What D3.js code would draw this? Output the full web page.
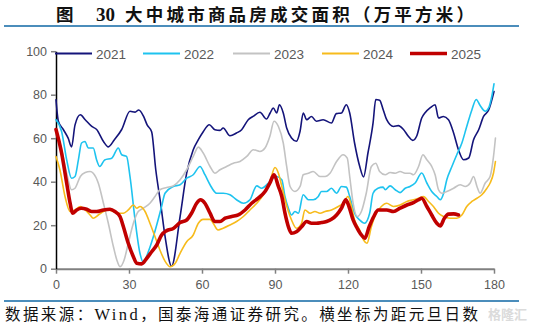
<!DOCTYPE html>
<html><head><meta charset="utf-8">
<script src="https://cdn.jsdelivr.net/npm/d3@7"></script>
<style>body{margin:0;background:#fff}svg{display:block}</style>
</head><body><svg id="c" width="535" height="333"></svg>
<script>
const years = ["2021","2022","2023","2024","2025"];
const colors = ["#14147a","#1ec3ef","#c3c3c3","#f7bb1c","#c00000"];
const xTicks = [0,30,60,90,120,150,180];
const yTicks = [0,20,40,60,80,100];

const s2021 = [[0,77.7],[1,67.7],[3,64],[5,60],[6.4,56],[7.8,66],[10,70.8],[12,68.5],[14.7,65.4],[16.7,64],[19.5,58.5],[21.5,56],[24,59.3],[27,64],[30.4,72.4],[32.5,72],[34,73],[36,70],[37.5,66],[39.3,63],[41,45.5],[43,30],[44.8,15],[47.5,1.2],[51,24],[53.7,43.9],[56.4,54.7],[58.5,59.3],[60.5,63],[63,66.2],[65.3,63.9],[67.4,63.6],[68.7,64.7],[71.5,61.1],[74.2,62.4],[76.3,63.9],[79,68.5],[81,70],[83.8,71.9],[86.5,68.8],[88,71.6],[89.3,73.9],[90.7,71.6],[91.8,75.4],[93.4,71.6],[94.8,64.7],[96.8,60.1],[98.8,58.6],[100.3,63.2],[101.6,71.6],[103,68.5],[105,70],[107,67.8],[109.8,68.5],[113.2,67],[115.2,71.3],[117.3,71.6],[119.3,75.4],[120.7,71.6],[122.7,57.8],[124.8,47.1],[126.4,42.2],[128.2,53.2],[130.3,67],[131.4,77.8],[133,77.5],[134.5,73],[135.9,68.5],[138.7,65.4],[140.7,65.8],[142.8,64],[144.8,60.9],[146.6,59],[148.2,60.9],[150.3,69.3],[151.6,71.6],[153.7,73.9],[155.8,75.4],[157.2,69.3],[159.2,70],[161.3,68.5],[163.4,62.4],[165.4,54.7],[167.5,50.1],[169.6,50.9],[171.6,59.3],[173.7,63.9],[175.7,70],[177.8,73],[180,81.5]];

const s2022 = [[0,68.5],[2.3,63.1],[4.4,50],[6.4,41.6],[7.8,42.4],[9.2,50],[10.5,57.8],[11.9,58.5],[13.3,55.5],[15.3,55.5],[16.7,50],[18,47],[20,50],[22.9,50.8],[25.6,55.5],[27,52.4],[29,51.6],[30.4,42.4],[32.5,22.4],[34.5,7.1],[35.9,3],[38,8],[40,14.7],[43.4,28.6],[44.8,34.7],[48.2,37.8],[51,38.6],[53.7,41.6],[56.4,43.2],[59.2,47],[61.2,43.2],[63.3,38.6],[66,34.7],[68.7,34.7],[71.5,34],[74.2,31.7],[77,30.1],[79.7,31.7],[82.5,38.1],[84.5,37],[87.3,39.4],[88.5,41],[90.7,42.4],[92.8,40.9],[94.1,33.2],[95.5,27.8],[96.8,24.7],[98.2,26.3],[99.6,25.5],[101.6,34],[103.7,31.7],[105.7,31.7],[107.8,33.2],[109.1,35.5],[111.2,35.5],[113.2,37],[115.3,34.7],[117.3,37.8],[119.3,37.5],[120.7,33.2],[122.7,25.5],[124.8,22.4],[126.8,20.9],[128.9,25.5],[130.3,34.7],[132.3,37],[134.4,37.5],[135.3,36.3],[137.3,38.1],[139.4,36.3],[141.4,35],[143.5,37],[145.5,37.8],[147.6,39.4],[150.3,44],[152.4,39.4],[154.4,35.5],[156.5,33.2],[157.9,31.7],[159.3,34.7],[160.6,40.9],[162.7,47],[164.7,52.4],[166.8,57.8],[168.8,65.4],[170.9,73],[172.7,77.8],[174.3,75],[176.4,72.4],[177.8,73.9],[179.1,79.3],[180,85]];

const s2023 = [[0,64],[2.3,54.7],[4.4,43.9],[6.4,36.3],[7.8,37],[10,42.4],[12,44.2],[14,44.7],[15.3,43.9],[17.4,39.3],[19.5,30.1],[21.5,20.9],[23.6,10.1],[25,4],[26.3,0.9],[28,4],[29.7,11.7],[31.8,20.9],[33.8,26.3],[35.9,27.8],[38.6,30.1],[40.7,33.2],[42.7,36.3],[45.5,37.3],[48.2,38.1],[51,40.9],[53.7,45.5],[56.4,51.6],[58.5,55.9],[60.5,53.2],[63.3,47],[65.3,43.9],[67.4,45.5],[70.1,47],[72.9,48.5],[75.6,49.3],[78.4,51.6],[81.1,54.7],[83.8,53.9],[85.9,55.5],[87.9,60.9],[89.6,67.8],[91.4,65.4],[93.4,57.8],[94.8,47],[96.2,37.8],[98.2,35.5],[100.3,37.8],[101.6,43.2],[103.7,43.9],[105.7,44.7],[108.5,42.4],[110.6,42.4],[112.6,43.9],[115.3,49.3],[118,52.4],[119.7,50.8],[120.7,42.4],[122.1,30.1],[123.8,24],[125.5,26.3],[127.5,34.7],[129.6,47],[131.4,48.5],[133,44.7],[135.3,43.2],[137.3,44.2],[139.4,43.9],[141.4,44.7],[143.5,43.9],[145.5,43.9],[146.9,43.2],[149,47],[150.8,52.4],[152.4,50.1],[154.4,47],[155.8,43.2],[157.2,36.3],[158.6,34.7],[160.6,35.5],[163.4,37],[166.1,38.6],[168.2,37.8],[170.2,39.4],[171.6,42.4],[173,37.8],[174.3,34.7],[176.4,39.4],[178.4,42.4],[179.8,51.6],[180.6,60.1]];

const s2024 = [[0,51.6],[1.6,45.5],[3.7,33.2],[5.8,26.3],[7.8,27],[10,28.6],[12,27],[14,24.7],[15.3,23.2],[17.4,24.7],[19.5,26.3],[21.5,27],[23.6,26.3],[25.6,25.5],[27.7,25.5],[29.7,27],[31.8,29.3],[33.2,27.8],[34.5,28.6],[36.6,26.3],[38.6,20.9],[40.7,14.7],[42.7,8.6],[44.8,3.5],[46.9,0.9],[49,2.5],[51,7.1],[53.7,12.4],[56.4,15.5],[58.5,20.9],[60.5,22.7],[63.3,22.7],[64.6,20.9],[66.6,17.8],[68.7,18.6],[71.5,20.1],[74.2,21.7],[77,24],[79.7,27],[82.5,30.1],[85.2,34],[87.9,40.1],[90,46.5],[91.4,43.9],[92.8,37.8],[94.1,31.7],[95.5,26.3],[96.8,22.4],[98.8,18.6],[100.9,20.9],[102.3,27],[104.4,25.5],[106.4,26.3],[108.5,25.5],[110.6,26.3],[113.2,27],[116,28.6],[118,30.1],[120,33.2],[121.4,28.6],[122.7,22.4],[124.8,17.8],[126.4,13.2],[127.8,11.7],[129.6,19.3],[131.6,25.5],[133.7,28.6],[135.9,30.1],[138.7,28.6],[141.4,29.3],[144.2,30.9],[146.9,31.7],[149,32.4],[151,33.2],[153.1,30.9],[155.1,28.6],[157.2,25.5],[159.3,24],[161.9,23.2],[164.7,23.2],[166.8,24.7],[168.8,28.6],[170.9,30.9],[173,32.4],[175,34],[177.1,37],[178.4,39.4],[179.8,44],[180.6,49.3]];

const s2025 = [[0,64],[2.3,53.2],[4.4,39.3],[5.8,30.1],[6.8,25.5],[8.5,27],[10.5,27.8],[12.6,27.3],[14.7,26.3],[16.7,26.3],[19.5,27],[22.2,27.3],[24.2,26.3],[26.3,24],[27.7,19.3],[29.7,11.7],[31.8,5.5],[33.2,2.5],[35.2,2.2],[37.3,4.8],[39.3,7.8],[41.4,10.9],[43.4,15.5],[45.5,17.5],[48.2,18.5],[51,21.2],[53.7,22.4],[55.7,25.5],[57.8,30.1],[59.4,31.7],[61.2,30.1],[63.3,25.5],[65.3,21.7],[67.4,21.7],[69.5,23.2],[72.2,24],[74.9,24.7],[77.7,27],[80.4,30.1],[83.1,32.4],[85.9,35.5],[87.9,39.4],[89.6,43.2],[91.4,37.8],[92.8,33.2],[94.1,25.5],[95.5,19.3],[96.8,16.3],[98.8,17],[100.9,19.3],[103,21.7],[105,20.9],[107,20.9],[109.1,21.2],[111.2,21.7],[113.2,22.7],[115.3,24.7],[117.3,27.8],[119.1,31.7],[120.4,28.6],[122.1,22.4],[123.8,18.6],[125.5,15.5],[126.9,14],[128.7,19.3],[130.6,24],[132.4,27],[135.9,27],[138.7,26.3],[141.4,27.8],[144.2,29.3],[146.9,30.4],[149,31.7],[150.3,32.4],[152.4,28.6],[154.4,24.7],[156.5,20.9],[157.9,19.7],[159.6,23.2],[161.3,25.1],[163.4,25.2],[165.4,24.7]];

const series = [s2021, s2022, s2023, s2024, s2025];

const svg = d3.select("#c");
const x = d3.scaleLinear().domain([0,180]).range([56,494]);
const y = d3.scaleLinear().domain([0,100]).range([268.7,51.2]);

const cjk = "'Noto Sans CJK SC', sans-serif";
const serif = "'Liberation Serif', 'Times New Roman', serif";

// title
svg.append("text").attr("x",56).attr("y",20.5)
  .attr("font-family",cjk).attr("font-weight","bold").attr("font-size",17.5).attr("fill","#111")
  .text("图");
svg.append("text").attr("x",96).attr("y",20.5)
  .attr("font-family",serif).attr("font-weight","bold").attr("font-size",19).attr("fill","#111")
  .text("30");
svg.append("text").attr("x",125).attr("y",20.5)
  .attr("font-family",cjk).attr("font-weight","bold").attr("font-size",17.5).attr("fill","#111")
  .attr("textLength",349).attr("lengthAdjust","spacing")
  .text("大中城市商品房成交面积（万平方米）");
svg.append("line").attr("x1",4).attr("x2",519).attr("y1",26).attr("y2",26)
  .attr("stroke","#4b8dbb").attr("stroke-width",2);
svg.append("line").attr("x1",4).attr("x2",519).attr("y1",301).attr("y2",301)
  .attr("stroke","#4b8dbb").attr("stroke-width",2);

// footer
const foot = svg.append("text").attr("x",5).attr("y",319.5)
  .attr("font-family",cjk).attr("font-size",15.5).attr("fill","#111")
  .attr("textLength",473).attr("lengthAdjust","spacing");
foot.append("tspan").text("数据来源：");
foot.append("tspan").attr("font-family",serif).attr("font-size",16.5).text("Wind");
foot.append("tspan").text("，国泰海通证券研究。横坐标为距元旦日数");
svg.append("text").attr("x",488).attr("y",319)
  .attr("font-family",cjk).attr("font-weight","bold").attr("font-size",13).attr("fill","#d5d5d5")
  .attr("opacity",0.85)
  .text("格隆汇");

// axes
const gx = svg.append("g").attr("transform","translate(0,268.7)")
  .call(d3.axisBottom(x).tickValues(xTicks).tickSize(5).tickSizeOuter(0).tickPadding(6));
gx.select(".domain").attr("stroke","#808080").attr("stroke-width",2);
gx.selectAll(".tick line").attr("stroke","#808080").attr("stroke-width",1.5);
gx.selectAll("text").attr("font-family","'Liberation Sans', Arial, sans-serif").attr("font-size",12.5).attr("fill","#595959");

const gy = svg.append("g").attr("transform","translate(56,0)")
  .call(d3.axisLeft(y).tickValues(yTicks).tickSize(5).tickSizeOuter(0).tickPadding(4));
gy.select(".domain").attr("stroke","#000").attr("stroke-width",1.5);
gy.selectAll(".tick line").attr("stroke","#808080").attr("stroke-width",1.5);
gy.selectAll("text").attr("font-family","'Liberation Sans', Arial, sans-serif").attr("font-size",12.5).attr("fill","#595959");

// lines
const line = d3.line().x(d=>x(d[0])).y(d=>y(d[1])).curve(d3.curveMonotoneX);
series.forEach((s,i)=>{
  svg.append("path").datum(s).attr("d",line).attr("fill","none")
    .attr("stroke",colors[i]).attr("stroke-width", i===4?3.6:1.6)
    .attr("stroke-linejoin","round").attr("stroke-linecap","round");
});

// legend
const legX = [55,143,233,322,410];
years.forEach((yr,i)=>{
  const g = svg.append("g");
  g.append("line").attr("x1",legX[i]).attr("x2",legX[i]+37).attr("y1",53.5).attr("y2",53.5)
    .attr("stroke",colors[i]).attr("stroke-width", i===4?3.6:1.8);
  g.append("text").attr("x",legX[i]+41).attr("y",58.5)
    .attr("font-family","'Liberation Sans', Arial, sans-serif").attr("font-size",13.5).attr("fill","#595959")
    .text(yr);
});
</script></body></html>
